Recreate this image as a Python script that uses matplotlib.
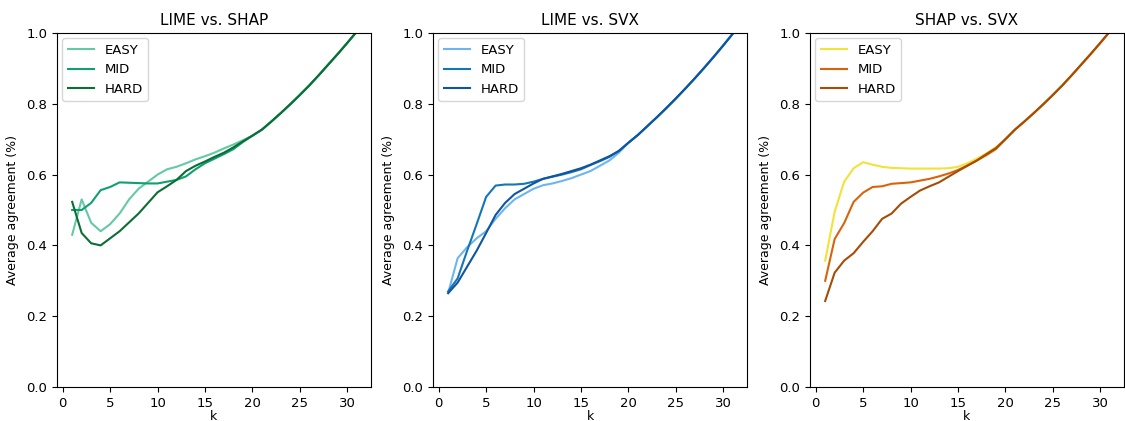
import numpy as np
import matplotlib
matplotlib.use("Agg")
import matplotlib.pyplot as plt

k = list(range(1, 32))

# shared tail for k = 21..31
tail = [0.727, 0.75, 0.774, 0.799, 0.825, 0.852, 0.881, 0.911, 0.941, 0.972, 1.004]

lime_shap_easy = [0.43, 0.53, 0.464, 0.44, 0.46, 0.49, 0.53, 0.56, 0.58, 0.60, 0.615, 0.622,
                  0.632, 0.643, 0.652, 0.662, 0.674, 0.685, 0.697, 0.71] + tail
lime_shap_mid = [0.50, 0.50, 0.52, 0.556, 0.565, 0.578, 0.577, 0.576, 0.575, 0.575, 0.58, 0.585,
                 0.595, 0.615, 0.632, 0.645, 0.658, 0.672, 0.692, 0.71] + tail
lime_shap_hard = [0.523, 0.435, 0.406, 0.40, 0.42, 0.44, 0.465, 0.49, 0.52, 0.55, 0.567, 0.585,
                  0.61, 0.625, 0.637, 0.65, 0.662, 0.677, 0.694, 0.71] + tail

lime_svx_easy = [0.266, 0.364, 0.395, 0.42, 0.44, 0.475, 0.505, 0.53, 0.545, 0.56, 0.57, 0.575,
                 0.582, 0.59, 0.60, 0.61, 0.625, 0.64, 0.662, 0.69, 0.712, 0.737, 0.762, 0.788,
                 0.815, 0.843, 0.872, 0.902, 0.933, 0.965, 0.998]
lime_svx_mid = [0.27, 0.307, 0.385, 0.46, 0.537, 0.569, 0.572, 0.572, 0.574, 0.58, 0.588, 0.594,
                0.60, 0.607, 0.615, 0.627, 0.638, 0.65, 0.667, 0.69, 0.712, 0.737, 0.762, 0.788,
                0.815, 0.843, 0.872, 0.902, 0.933, 0.965, 0.998]
lime_svx_hard = [0.265, 0.295, 0.34, 0.385, 0.435, 0.486, 0.52, 0.545, 0.56, 0.575, 0.588, 0.595,
                 0.602, 0.61, 0.618, 0.628, 0.64, 0.652, 0.667, 0.69, 0.712, 0.737, 0.762, 0.788,
                 0.815, 0.843, 0.872, 0.902, 0.933, 0.965, 0.998]

shap_svx_easy = [0.357, 0.495, 0.58, 0.618, 0.635, 0.628, 0.622, 0.619, 0.618, 0.617, 0.617, 0.617,
                 0.617, 0.618, 0.622, 0.632, 0.645, 0.66, 0.677, 0.7] + tail
shap_svx_mid = [0.30, 0.418, 0.463, 0.523, 0.549, 0.565, 0.567, 0.574, 0.576, 0.578, 0.583, 0.588,
                0.595, 0.603, 0.613, 0.626, 0.64, 0.655, 0.672, 0.7] + tail
shap_svx_hard = [0.243, 0.323, 0.357, 0.378, 0.41, 0.44, 0.475, 0.49, 0.518, 0.537, 0.555, 0.567,
                 0.578, 0.594, 0.61, 0.625, 0.64, 0.658, 0.675, 0.7] + tail

titles = ["LIME vs. SHAP", "LIME vs. SVX", "SHAP vs. SVX"]
levels = ["EASY", "MID", "HARD"]
panels = [
    [lime_shap_easy, lime_shap_mid, lime_shap_hard],
    [lime_svx_easy, lime_svx_mid, lime_svx_hard],
    [shap_svx_easy, shap_svx_mid, shap_svx_hard],
]
colors = [
    ["#66c9a6", "#0fa070", "#0b6e35"],
    ["#6fb4f2", "#1276b8", "#0f55a0"],
    ["#f2e23a", "#d9630a", "#a64c05"],
]

fig = plt.figure(figsize=(11.25, 4.21), dpi=100)
lefts = [57, 433, 810]
for i in range(3):
    ax = fig.add_axes([lefts[i] / 1125, 1 - 387 / 421, 314 / 1125, 354 / 421])
    for series, lvl, c in zip(panels[i], levels, colors[i]):
        ax.plot(k, series, color=c, label=lvl, linewidth=1.5)
    ax.set_ylim(0, 1.0)
    ax.set_xlim(-0.6, 32.5)
    ax.set_title(titles[i], fontsize=11)
    ax.set_xlabel("k", fontsize=9, labelpad=0)
    ax.set_ylabel("Average agreement (%)", fontsize=9, labelpad=5)
    ax.tick_params(labelsize=9.5)
    ax.legend(loc="upper left", fontsize=9.5, borderaxespad=0.4)

fig.savefig("out.png", dpi=100)
